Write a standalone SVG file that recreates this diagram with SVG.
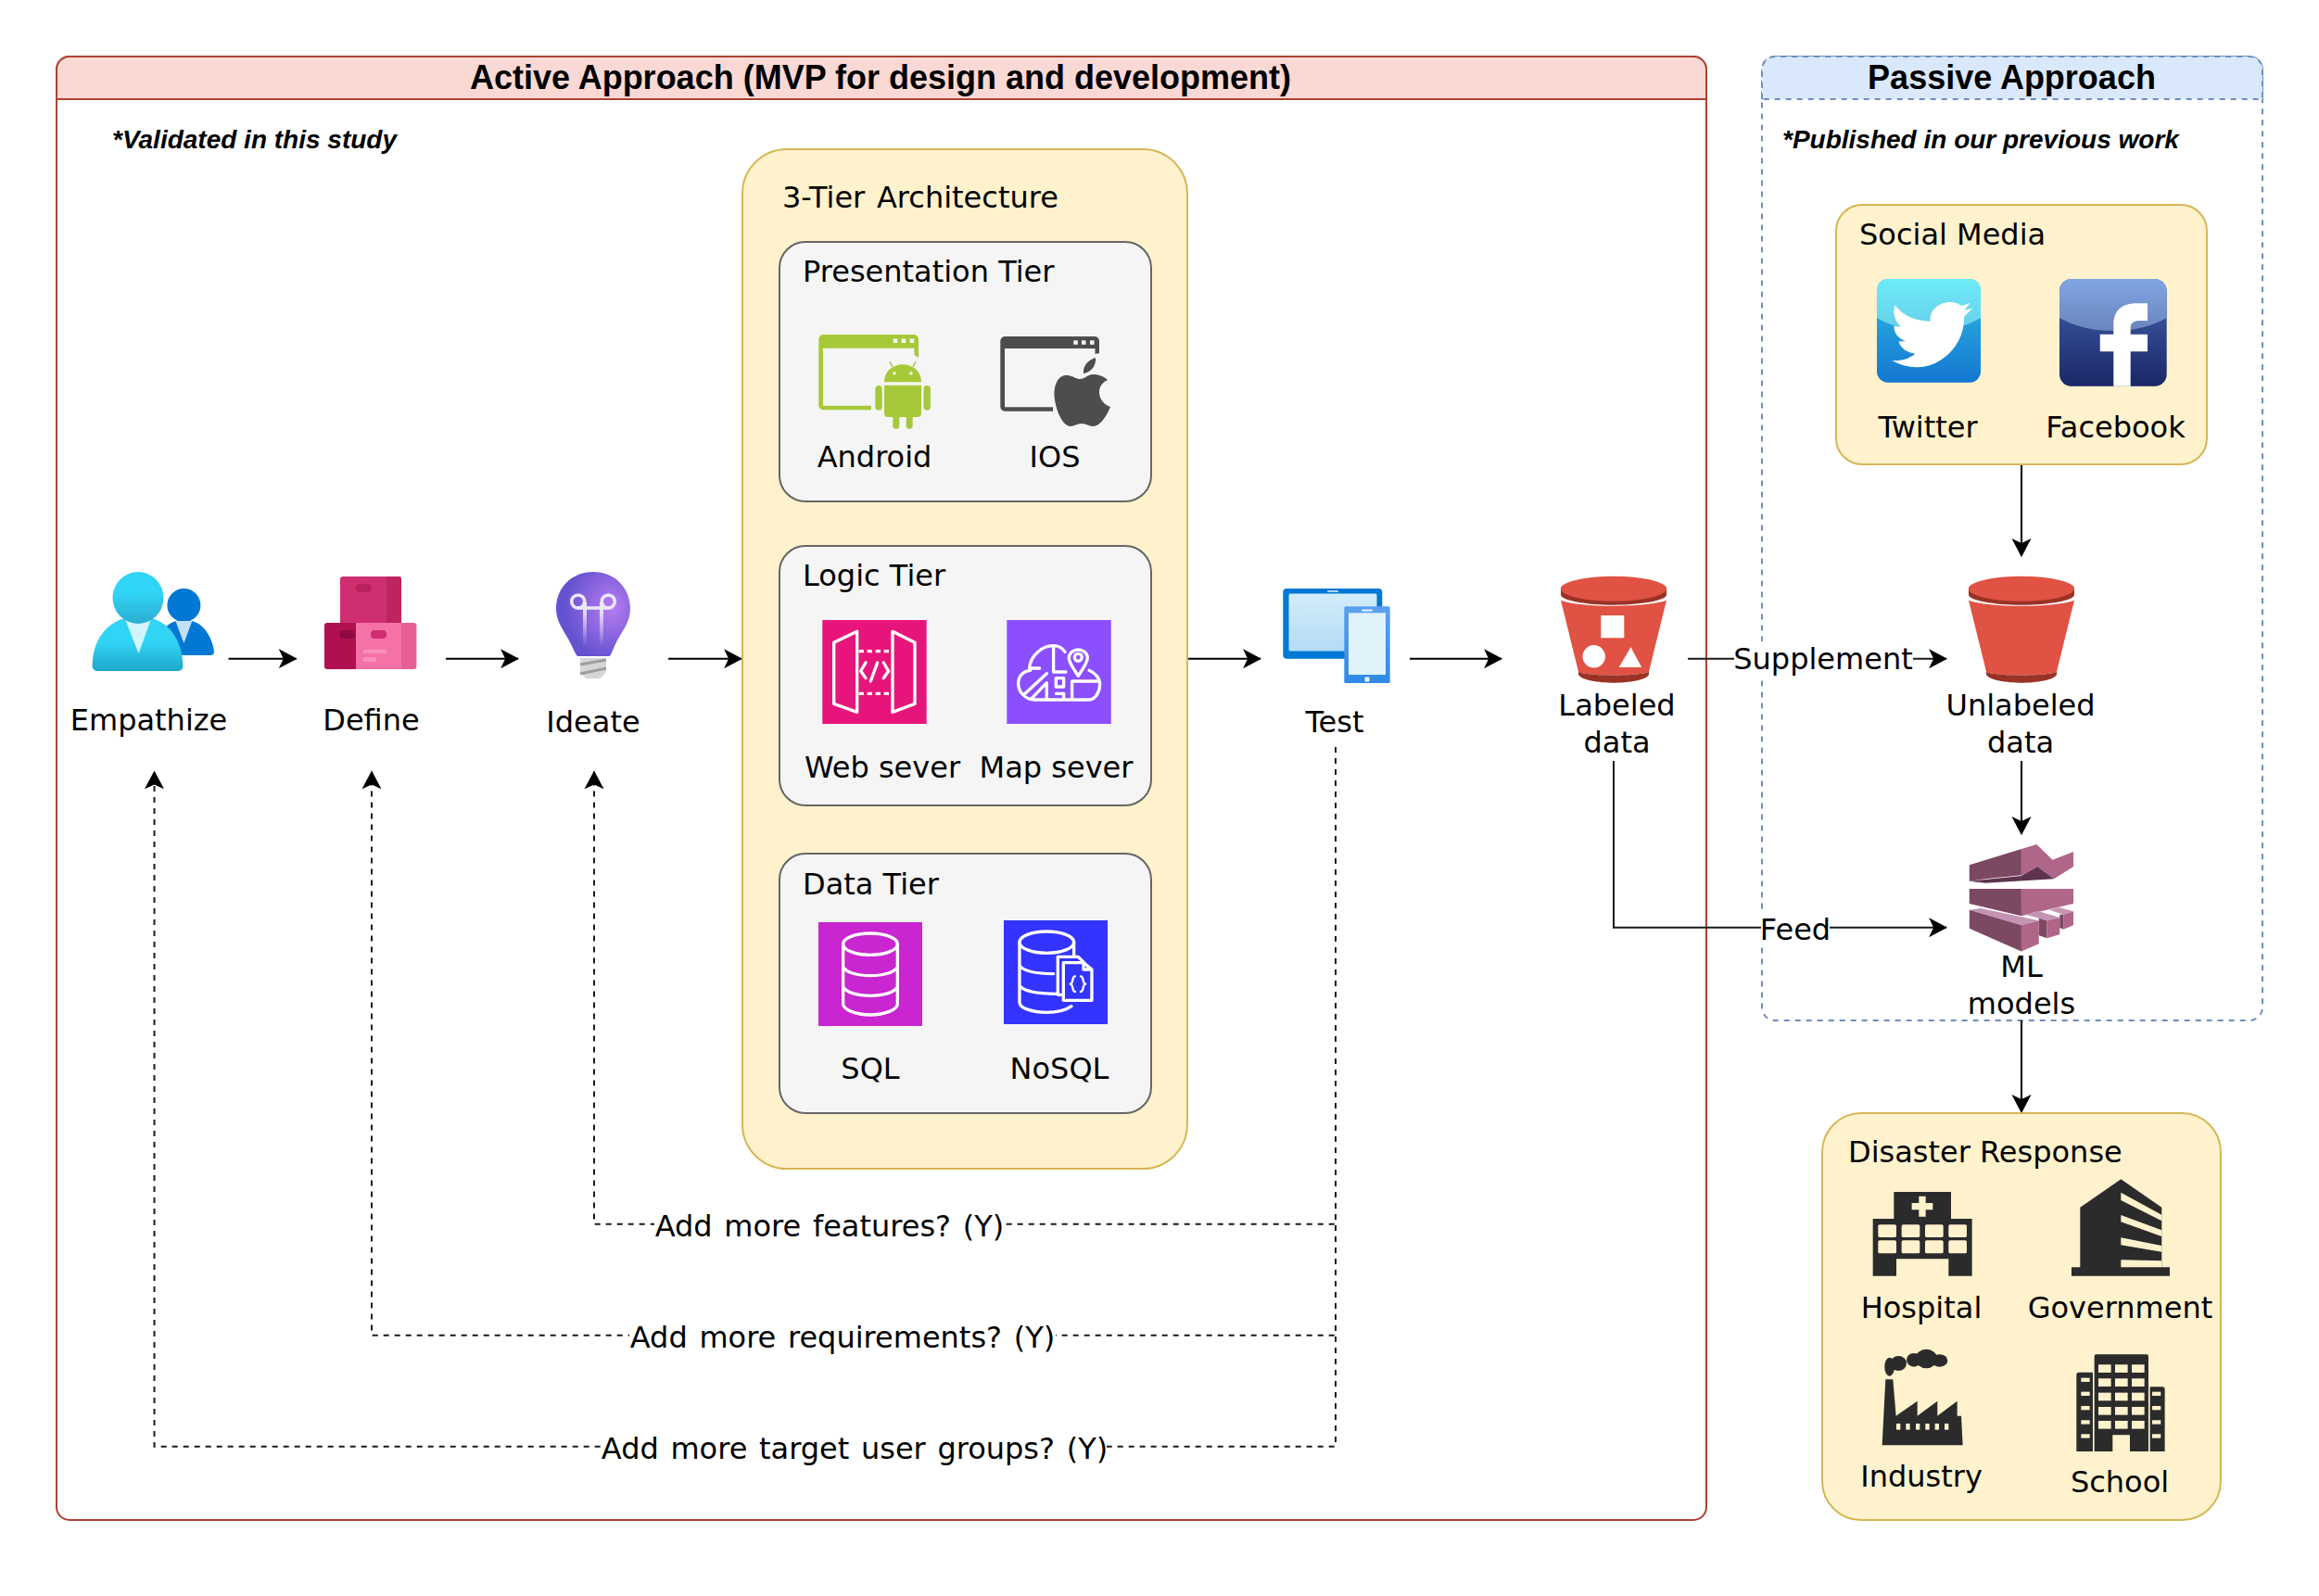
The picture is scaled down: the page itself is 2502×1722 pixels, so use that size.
<svg xmlns="http://www.w3.org/2000/svg" width="2502" height="1722" viewBox="0 0 2502 1722">
<style>
.t{font-family:"DejaVu Sans",Verdana,sans-serif;font-size:32px;fill:#000}
.c{text-anchor:middle}
.q{word-spacing:2.500px}
.h{font-family:"Liberation Sans",Arial,sans-serif;font-size:36px;font-weight:bold;fill:#000;text-anchor:middle}
.n{font-family:"Liberation Sans",Arial,sans-serif;font-size:28px;font-weight:bold;font-style:italic;fill:#000}
.y{fill:#fff2cc;stroke:#d6b656;stroke-width:2}
.g{fill:#f5f5f5;stroke:#666;stroke-width:2}
.a{fill:none;stroke:#000;stroke-width:2;marker-end:url(#arrow)}
.l{fill:none;stroke:#1a1a1a;stroke-width:2;marker-end:url(#arrow)}
.d{fill:none;stroke:#1a1a1a;stroke-width:2;stroke-dasharray:6 6;marker-end:url(#arrow)}
.w{fill:none;stroke:#fff;stroke-width:10;stroke-linecap:round;stroke-linejoin:round}
.b{fill:#2b2b2b}
.cream{fill:#fff2cc}
</style>
<defs>
<marker id="arrow" markerUnits="userSpaceOnUse" markerWidth="20" markerHeight="22" viewBox="0 0 18 19" refX="17" refY="9.5" orient="auto"><path d="M18 9.5L0 0L4.5 9.5L0 19Z" fill="#000"/></marker>
<linearGradient id="bigBody" gradientUnits="userSpaceOnUse" x1="0" y1="693" x2="0" y2="724"><stop offset="0" stop-color="#32d4f5"/><stop offset="1" stop-color="#1fa7cb"/></linearGradient>
<linearGradient id="bigHead" gradientUnits="userSpaceOnUse" x1="0" y1="640" x2="0" y2="672"><stop offset="0" stop-color="#32d4f5"/><stop offset="1" stop-color="#2aaed2"/></linearGradient>
<radialGradient id="bulb" cx=".74" cy=".42" r=".62"><stop offset="0" stop-color="#b77cf1"/><stop offset="1" stop-color="#6552d0"/></radialGradient>
<linearGradient id="fil" gradientUnits="userSpaceOnUse" x1="0" y1="656" x2="0" y2="697"><stop offset="0" stop-color="#ece8fa"/><stop offset="1" stop-color="#ece8fa" stop-opacity="0"/></linearGradient>
<linearGradient id="tab" x1="0" y1="0" x2="0" y2="1"><stop offset="0" stop-color="#d3edfa"/><stop offset="1" stop-color="#b5dbf5"/></linearGradient>
<linearGradient id="pho" x1="0" y1="0" x2="0" y2="1"><stop offset="0" stop-color="#5ea0ef"/><stop offset="1" stop-color="#2f8ae6"/></linearGradient>
<linearGradient id="twA" x1="0" y1="0" x2="0" y2="1"><stop offset="0" stop-color="#6eebf8"/><stop offset="1" stop-color="#66cfe9"/></linearGradient>
<linearGradient id="twB" x1="0" y1="0" x2="0" y2="1"><stop offset="0" stop-color="#30bce6"/><stop offset="1" stop-color="#1477d0"/></linearGradient>
<linearGradient id="fbA" x1="0" y1="0" x2="0" y2="1"><stop offset="0" stop-color="#80a6e4"/><stop offset="1" stop-color="#6b84bd"/></linearGradient>
<linearGradient id="fbB" x1="0" y1="0" x2="0" y2="1"><stop offset="0" stop-color="#4263ad"/><stop offset="1" stop-color="#1b2768"/></linearGradient>
<g id="bucket">
<path d="M-57 12V20C-57 26-30 31 0 31C30 31 57 26 57 20V12Z" fill="#9a3226"/>
<ellipse cx="0" cy="13.5" rx="57" ry="13.5" fill="#e05243"/>
<path d="M-57 26C-35 34 35 34 57 26L38 103C30 108-30 108-38 103Z" fill="#e05243"/>
<path d="M-38 103C-30 108 30 108 38 103V106C36 112 15 115 0 115C-15 115-36 112-38 106Z" fill="#9a3226"/>
</g>
</defs>

<rect width="2502" height="1722" fill="#fff"/>

<g id="active-approach">
<rect x="61" y="61" width="1780" height="1579" rx="14" fill="#fff" stroke="#ae4132" stroke-width="2"/>
<path d="M61 107V75A14 14 0 0 1 75 61H1827A14 14 0 0 1 1841 75V107Z" fill="#fad9d5" stroke="#ae4132" stroke-width="2"/>
<text class="h" x="950" y="96">Active Approach (MVP for design and development)</text>
<text class="n" x="121" y="160">*Validated in this study</text>
</g>

<g id="passive-approach">
<rect x="1901" y="61" width="540" height="1040" rx="14" fill="#fff" stroke="#6c8ebf" stroke-width="2" stroke-dasharray="6 6"/>
<path d="M1901 107V75A14 14 0 0 1 1915 61H2427A14 14 0 0 1 2441 75V107Z" fill="#dae8fc" stroke="#6c8ebf" stroke-width="2" stroke-dasharray="6 6"/>
<text class="h" x="2170.500" y="96">Passive Approach</text>
<text class="n" x="1923" y="160">*Published in our previous work</text>
</g>

<g id="connectors">
<path class="a" d="M246.500 710.700H319.600"/>
<path class="a" d="M481 710.700H559"/>
<path class="a" d="M721 710.700H800"/>
<path class="a" d="M1281 710.700H1360"/>
<path class="a" d="M1521 710.700H1620"/>
<path class="a" d="M2181 501V600"/>
<path class="a" d="M2181 821V900"/>
<path class="a" d="M2181 1101V1200"/>
<path class="l" d="M1821 710.700H2100"/>
<path class="l" d="M1741 821V1000.700H2100"/>
<path class="d" d="M1441 806V1320.700H641V832.500"/>
<path class="d" d="M1441 806V1440.700H401V832.500"/>
<path class="d" d="M1441 806V1560.700H166.500V832.500"/>
<g fill="#fff">
<rect x="1871" y="692" width="193" height="38"/>
<rect x="1900" y="982" width="74" height="38"/>
<rect x="706" y="1300" width="377" height="42"/>
<rect x="679" y="1420" width="460" height="42"/>
<rect x="650" y="1540" width="544" height="42"/>
</g>
<text class="t c" x="1967" y="722">Supplement</text>
<text class="t c" x="1937" y="1014">Feed</text>
<text class="t c q" x="895" y="1334">Add more features? (Y)</text>
<text class="t c q" x="909" y="1454">Add more requirements? (Y)</text>
<text class="t c q" x="922" y="1574">Add more target user groups? (Y)</text>
</g>

<g id="empathize">
<circle cx="198.400" cy="653" r="18" fill="#0078d4"/>
<path d="M175 681C180 674 186 671 190 670H207C220 673 229 688 231 703C231 706 229 707 227 707H196Z" fill="#0078d4"/>
<path d="M189.400 670H207.300L198.400 694Z" fill="#c3e0f5"/>
<path d="M99.600 718C100 690 115 672 135 667H163C183 672 196 690 197.500 718C197.500 722 195 724 191 724H106C102 724 99.600 722 99.600 718Z" fill="url(#bigBody)"/>
<path d="M135 668H163L149.500 705Z" fill="#d2f5fd"/>
<ellipse cx="149" cy="645" rx="27.500" ry="28" fill="url(#bigHead)"/>
<text class="t c" x="160.500" y="788">Empathize</text>
</g>

<g id="define">
<path d="M367 625a3 3 0 0 1 3-3H430a3 3 0 0 1 3 3V672H367Z" fill="#cf2f72"/>
<path d="M417 622H430a3 3 0 0 1 3 3V672H417Z" fill="#bd2460"/>
<rect x="384" y="630" width="16.500" height="8.700" rx="4" fill="#b9215c"/>
<path d="M350 675a3 3 0 0 1 3-3H385V722H353a3 3 0 0 1-3-3Z" fill="#b01050"/>
<rect x="384" y="672" width="50" height="50" fill="#f472a6"/>
<path d="M433 672H446.400a3 3 0 0 1 3 3V719a3 3 0 0 1-3 3H433Z" fill="#e75f97"/>
<rect x="366.500" y="680" width="16.500" height="9" rx="4" fill="#8f0a42"/>
<rect x="400" y="680" width="17" height="9" rx="4" fill="#cf2f72"/>
<rect x="392" y="701" width="25" height="4" fill="#fb90bf"/>
<rect x="392" y="709" width="14" height="5" fill="#fb90bf"/>
<text class="t c" x="400.500" y="788">Define</text>
</g>

<g id="ideate">
<path d="M640 617C617 617 600 634 600 657C600 672 610 682 616 695C619 701 621 706 623 708H657.500C660 706 661 701 664 695C670 682 680 672 680 657C680 634 663 617 640 617Z" fill="url(#bulb)"/>
<path d="M626 710H654V725L648 732H632L626 725Z" fill="#d6d6d6"/>
<path d="M626 717L654 712M626 727L654 721" stroke="#9e9e9e" stroke-width="3" fill="none"/>
<circle cx="623.700" cy="649" r="7" fill="none" stroke="#ece8fa" stroke-width="3.500"/>
<circle cx="656.300" cy="649" r="7" fill="none" stroke="#ece8fa" stroke-width="3.500"/>
<path d="M623 656H657" stroke="#ece8fa" stroke-width="3.500" fill="none"/>
<rect x="629" y="650" width="4" height="47" fill="url(#fil)"/>
<rect x="647" y="650" width="4" height="47" fill="url(#fil)"/>
<text class="t c" x="640" y="790">Ideate</text>
</g>

<g id="three-tier">
<rect class="y" x="801" y="161" width="480" height="1100" rx="48"/>
<text class="t q" x="844" y="224">3-Tier Architecture</text>
</g>

<g id="presentation-tier">
<rect class="g" x="841" y="261" width="401" height="280" rx="28"/>
<text class="t" x="866" y="304">Presentation Tier</text>
<g id="android">
<path d="M883.300 366a5 5 0 0 1 5-5H986a5 5 0 0 1 5 5V386L986.500 383V375.700H888V437.800H940V442.300H888.300a5 5 0 0 1-5-5Z" fill="#a6c939"/>
<g fill="#f5f5f5"><rect x="963.700" y="365.500" width="4.500" height="4.500"/><rect x="972.700" y="365.500" width="4.500" height="4.500"/><rect x="981.700" y="365.500" width="4.500" height="4.500"/></g>
<path d="M954 412.300C954 401 963 393.300 974 393.300C985 393.300 994 401 994 412.300Z" fill="#a6c939"/>
<path d="M963 395.700L960 390M985 395.700L988 390" stroke="#a6c939" stroke-width="1.500" fill="none"/>
<circle cx="965" cy="402.700" r="1.800" fill="#f5f5f5"/><circle cx="983" cy="402.700" r="1.800" fill="#f5f5f5"/>
<path d="M954 415.700H994V446a4 4 0 0 1-4 4H958a4 4 0 0 1-4-4Z" fill="#a6c939"/>
<rect x="944.300" y="416" width="7.400" height="26.700" rx="3.700" fill="#a6c939"/>
<rect x="996.500" y="416" width="7.400" height="26.700" rx="3.700" fill="#a6c939"/>
<rect x="963.300" y="445" width="7" height="17.700" rx="3.500" fill="#a6c939"/>
<rect x="977.700" y="445" width="7" height="17.700" rx="3.500" fill="#a6c939"/>
</g>
<text class="t c" x="943.500" y="504">Android</text>
<g id="ios">
<path d="M1079.300 368a5 5 0 0 1 5-5H1181a5 5 0 0 1 5 5V381L1181.500 382V376H1084V439.200H1136V443.700H1084.300a5 5 0 0 1-5-5Z" fill="#4d4d4d"/>
<g fill="#f5f5f5"><rect x="1158.300" y="367.300" width="4.500" height="4.500"/><rect x="1167" y="367.300" width="4.500" height="4.500"/><rect x="1176" y="367.300" width="4.500" height="4.500"/></g>
<path d="M1165 409C1160 409 1155 404 1149 405C1141 406 1137 416 1137.500 426C1138 440 1146 460 1155 460C1159 460 1162 457 1167 457C1172 457 1175 460 1179 460C1187 460 1194 449 1198 439C1190 436 1186 430 1186 423C1186 417 1190 412 1195 410C1190 405 1184 404 1179 404C1174 404 1170 409 1165 409Z" fill="#4d4d4d"/>
<path d="M1169 403C1168 395 1174 388 1182 386C1183 394 1177 402 1169 403Z" fill="#4d4d4d"/>
</g>
<text class="t c" x="1138" y="504">IOS</text>
</g>

<g id="logic-tier">
<rect class="g" x="841" y="589" width="401" height="280" rx="28"/>
<text class="t" x="866" y="632">Logic Tier</text>
<g id="web-server">
<rect x="887.300" y="669" width="112.400" height="112" fill="#e7157b"/>
<g transform="translate(850 640) scale(.3333)">
<path class="w" d="M149 160L224 124V385L149 358ZM339 124L411 160V358L339 385ZM252 225L236 252L252 275M310 225L326 252L310 275M290 225L268 285"/>
<path class="w" style="stroke-dasharray:16 11;stroke-linecap:butt" d="M230 188H335M230 325H335"/>
</g>
</g>
<text class="t c" x="952" y="839">Web sever</text>
<g id="map-server">
<rect x="1086.300" y="669" width="112.400" height="112" fill="#8c4fff"/>
<g transform="translate(850 640) scale(.3333)">
<path class="w" d="M815 243H782C785 200 825 170 860 170C875 170 888 177 897 190M785 250C760 252 746 270 746 292C746 322 770 345 800 345H975C995 345 1010 320 1010 295C1010 275 995 258 975 250M838 260L765 328M838 290L790 340M838 290V345M860 170V255H900M868 275H893V303H868ZM868 325H893V345M920 285H1005M920 285V345"/>
<path class="w" d="M940 268C925 245 910 225 910 210C910 193 925 183 940 183C955 183 970 193 970 210C970 225 955 245 940 268Z"/>
<circle cx="940" cy="208" r="12" fill="none" stroke="#fff" stroke-width="10"/>
</g>
</g>
<text class="t c" x="1139.500" y="839">Map sever</text>
</g>

<g id="data-tier">
<rect class="g" x="841" y="921" width="401" height="280" rx="28"/>
<text class="t" x="866" y="965">Data Tier</text>
<g id="sql">
<rect x="883" y="995" width="112" height="112" fill="#c925d1"/>
<g transform="translate(850 970) scale(.3333)">
<ellipse class="w" cx="267" cy="146" rx="88" ry="35"/>
<path class="w" d="M179 146V340C179 358 220 375 267 375C314 375 355 358 355 340V146M179 220C190 238 225 248 267 248C309 248 344 238 355 220M179 285C190 303 225 313 267 313C309 313 344 303 355 285"/>
</g>
</g>
<text class="t c" x="939" y="1164">SQL</text>
<g id="nosql">
<rect x="1083" y="993" width="112" height="112" fill="#3334ff"/>
<g transform="translate(850 970) scale(.3333)">
<ellipse class="w" cx="838" cy="140" rx="88" ry="35"/>
<path class="w" d="M750 140V335C750 352 790 367 838 367C870 367 900 360 918 347M926 140V182M750 215C762 232 800 242 860 242M750 280C762 297 800 307 870 307"/>
<path class="w" d="M885 310H874V187H940L958 205"/>
<path class="w" d="M892 206H957L984 228V328H892ZM957 206V228H984"/>
<path class="w" style="stroke-width:7" d="M930 250C918 250 926 275 914 275C926 275 918 300 930 300M948 250C960 250 952 275 964 275C952 275 960 300 948 300"/>
</g>
</g>
<text class="t c" x="1143" y="1164">NoSQL</text>
</g>

<g id="test">
<rect x="1384.300" y="635" width="107" height="75.700" rx="4" fill="#0078d4"/>
<rect x="1390.500" y="640.500" width="95" height="62" rx="1.500" fill="url(#tab)"/>
<rect x="1432" y="637" width="12" height="2" rx="1" fill="#a9d6f5"/>
<rect x="1450.300" y="654.300" width="49.400" height="82.700" rx="1.500" fill="url(#pho)"/>
<rect x="1455" y="661.300" width="40" height="66.700" fill="#e0f3fb"/>
<rect x="1469" y="657.500" width="12" height="2" rx="1" fill="#e8f4fc"/>
<rect x="1472.500" y="730.500" width="5" height="5" rx="1" fill="#e8f4fc"/>
<text class="t c" x="1440" y="790">Test</text>
</g>

<g id="labeled-data">
<use href="#bucket" x="1741" y="621.700"/>
<rect x="1727.300" y="664" width="25" height="24.300" fill="#fff"/>
<circle cx="1719.700" cy="708.300" r="12.200" fill="#fff"/>
<path d="M1759.500 698.300L1746.700 720H1771.200Z" fill="#fff"/>
<text class="t c" x="1744.500" y="772">Labeled</text>
<text class="t c" x="1744.500" y="812">data</text>
</g>

<g id="unlabeled-data">
<use href="#bucket" x="2181" y="621.700"/>
<text class="t c" x="2180" y="772">Unlabeled</text>
<text class="t c" x="2180" y="812">data</text>
</g>

<g id="ml-models">
<g transform="translate(1660 600) scale(.5102 .3333)">
<path d="M911 1000L1021 948V1033L945 1045L911 1052Z" fill="#7d4862"/>
<path d="M1021 948L1053 933L1087 983L1131 957V1005L1090 1045L1055 1005L1021 1035Z" fill="#af6688"/>
<path d="M1021 1035L1055 1005L1090 1045L945 1058L911 1052Z" fill="#5e3350"/>
<path d="M911 1077H1021V1165L911 1125Z" fill="#7d4862"/>
<path d="M1021 1077H1131V1125L1021 1165Z" fill="#af6688"/>
<path d="M1030 1160L1055 1148L1102 1170L1075 1180Z" fill="#c594b2"/>
<path d="M1058 1172L1075 1180V1237L1058 1228Z" fill="#7d4862"/>
<path d="M1075 1180L1102 1170V1225L1075 1237Z" fill="#af6688"/>
<path d="M1080 1145L1100 1137L1131 1150L1110 1160Z" fill="#c594b2"/>
<path d="M1102 1160L1110 1160V1208L1102 1203Z" fill="#7d4862"/>
<path d="M1110 1160L1131 1150V1195L1110 1208Z" fill="#af6688"/>
<path d="M911 1145L935 1140L1058 1180L1021 1195Z" fill="#c594b2"/>
<path d="M911 1145L1021 1195V1280L911 1205Z" fill="#7d4862"/>
<path d="M1021 1195L1058 1180V1255L1021 1280Z" fill="#af6688"/>
</g>
<text class="t c" x="2181" y="1054">ML</text>
<text class="t c" x="2181" y="1094">models</text>
</g>

<g id="social-media">
<rect class="y" x="1981" y="221" width="400" height="280" rx="28"/>
<text class="t" x="2006" y="264">Social Media</text>
<g id="twitter">
<rect x="2025" y="301" width="112" height="111.700" rx="12" fill="url(#twB)"/>
<path d="M2025 343V313A12 12 0 0 1 2037 301H2125A12 12 0 0 1 2137 313V343C2120 353 2100 357 2081 357C2062 357 2042 353 2025 343Z" fill="url(#twA)"/>
<path transform="translate(1880 40) scale(.3827 .3333)" d="M430 868C455 905 490 920 530 920C525 885 555 855 590 858C600 858 610 865 618 870L642 860L625 885L648 878L625 905C625 960 605 1010 560 1045C520 1075 470 1078 422 1047C445 1048 470 1042 487 1025C465 1022 447 1010 440 985L460 985C440 975 427 960 427 935L447 938C430 920 422 895 430 868Z" fill="#fff"/>
</g>
<text class="t c" x="2080" y="472">Twitter</text>
<g id="facebook">
<rect x="2222" y="301" width="115.700" height="115.700" rx="13" fill="url(#fbB)"/>
<path d="M2222 343V314A13 13 0 0 1 2235 301H2324.700A13 13 0 0 1 2337.700 314V343C2320 353 2300 357 2280 357C2260 357 2240 353 2222 343Z" fill="url(#fbA)"/>
<path transform="translate(1880 40) scale(.3827 .3333)" d="M1094 1130V1018H1142V962H1094V940C1094 925 1105 918 1120 918H1142V862H1110C1070 862 1046 885 1046 930V962H1008V1018H1046V1130Z" fill="#fff"/>
</g>
<text class="t c" x="2282.500" y="472">Facebook</text>
</g>

<g id="disaster-response">
<rect class="y" x="1966" y="1201" width="430" height="439" rx="42"/>
<text class="t" x="1994" y="1254">Disaster Response</text>
<g transform="translate(1940 1180) scale(.3333)">
<g id="hospital">
<path class="b" d="M310 318H495V405H563V590H487V535H318V590H242V405H310Z"/>
<g class="cream">
<path d="M391 332H413V354H436V376H413V398H391V376H368V354H391Z"/>
<rect x="259" y="424" width="59" height="41" rx="5"/><rect x="335" y="424" width="59" height="41" rx="5"/><rect x="411" y="424" width="59" height="41" rx="5"/><rect x="487" y="424" width="59" height="41" rx="5"/>
<rect x="259" y="475" width="59" height="42" rx="5"/><rect x="335" y="475" width="59" height="42" rx="5"/><rect x="411" y="475" width="59" height="42" rx="5"/><rect x="487" y="475" width="59" height="42" rx="5"/>
</g>
</g>
<g id="government">
<path class="b" d="M913 368L1045 277L1177 368V562H1203V590H885V562H913Z"/>
<path class="cream" d="M1045 320L1177 392V412L1045 345ZM1045 393L1177 442V462L1045 415ZM1045 466L1177 492V512L1045 490ZM1045 538L1177 541V562H1045Z"/>
</g>
<g id="industry">
<path class="b" d="M283 925H307L317 1043L386 995V1043L451 995V1043L515 995V1043H528L533 1138H272Z"/>
<g class="cream"><rect x="318" y="1068" width="13" height="20"/><rect x="349" y="1068" width="13" height="20"/><rect x="381" y="1068" width="13" height="20"/><rect x="412" y="1068" width="13" height="20"/><rect x="443" y="1068" width="13" height="20"/><rect x="474" y="1068" width="13" height="20"/></g>
<g class="b"><ellipse cx="296" cy="884" rx="16" ry="30"/><ellipse cx="325" cy="873" rx="26" ry="24"/><ellipse cx="375" cy="862" rx="24" ry="22"/><ellipse cx="415" cy="858" rx="35" ry="31"/><ellipse cx="458" cy="864" rx="26" ry="20"/></g>
</g>
<g id="school">
<path class="b" d="M959 850a6 6 0 0 1 6-6H1128a6 6 0 0 1 6 6V1158H1074V1105H1018V1158H959ZM901 910a8 8 0 0 1 8-8H954V1158H901ZM1139 949H1179a8 8 0 0 1 8 8V1158H1139Z"/>
<g class="cream">
<rect x="972" y="877" width="41" height="26"/><rect x="1026" y="877" width="41" height="26"/><rect x="1080" y="877" width="41" height="26"/>
<rect x="972" y="922" width="41" height="26"/><rect x="1026" y="922" width="41" height="26"/><rect x="1080" y="922" width="41" height="26"/>
<rect x="972" y="968" width="41" height="26"/><rect x="1026" y="968" width="41" height="26"/><rect x="1080" y="968" width="41" height="26"/>
<rect x="972" y="1014" width="41" height="26"/><rect x="1026" y="1014" width="41" height="26"/><rect x="1080" y="1014" width="41" height="26"/>
<rect x="972" y="1059" width="41" height="26"/><rect x="1026" y="1059" width="41" height="26"/><rect x="1080" y="1059" width="41" height="26"/>
<rect x="916" y="920" width="28" height="13"/><rect x="916" y="965" width="28" height="13"/><rect x="916" y="1011" width="28" height="13"/><rect x="916" y="1057" width="28" height="13"/><rect x="916" y="1102" width="28" height="13"/>
<rect x="1146" y="965" width="28" height="13"/><rect x="1146" y="1011" width="28" height="13"/><rect x="1146" y="1057" width="28" height="13"/><rect x="1146" y="1102" width="28" height="13"/>
</g>
</g>
</g>
<text class="t c" x="2073" y="1422">Hospital</text>
<text class="t c" x="2287.500" y="1422">Government</text>
<text class="t c" x="2073" y="1604">Industry</text>
<text class="t c" x="2287" y="1610">School</text>
</g>
</svg>
